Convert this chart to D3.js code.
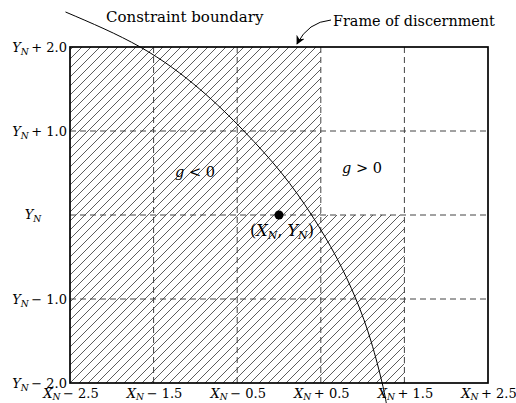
<!DOCTYPE html>
<html><head><meta charset="utf-8">
<script src="https://cdn.jsdelivr.net/npm/d3@7"></script>
<style>
html,body{margin:0;padding:0;background:#fff;}
text{font-family:"DejaVu Serif",serif;fill:#000;}
</style></head>
<body><svg id="c" width="516" height="403"></svg>
<script>
// ---- data ----
const xTicks = [-2.5, -1.5, -0.5, 0.5, 1.5, 2.5];
const xTickLabels = ["− 2.5", "− 1.5", "− 0.5", "+ 0.5", "+ 1.5", "+ 2.5"];
const yTicks = [2, 1, 0, -1, -2];
const yTickLabels = ["+ 2.0", "+ 1.0", "", "− 1.0", "− 2.0"];
const gridX = [-1.5, -0.5, 0.5, 1.5];
const gridY = [1, 0, -1];
// hatched region (x,y) vertices
const regionX = [-2.5, 1.5, 1.5, 0.5, 0.5, -2.5];
const regionY = [-2, -2, 0, 0, 2, 2];
// constraint boundary curve
const curveX = [-2.554, -1.66, -0.95, -0.42, 0.03, 0.39, 0.685, 0.92, 1.10, 1.234, 1.283];
const curveY = [2.417, 2.0, 1.5, 1.0, 0.5, 0.0, -0.5, -1.0, -1.5, -2.0, -2.238];
const nominal = [0, 0];

const svg = d3.select("#c");
const x = d3.scaleLinear().domain([-2.5, 2.5]).range([70, 488]);
const y = d3.scaleLinear().domain([-2, 2]).range([383, 47]);

// hatch pattern
const defs = svg.append("defs");
const pat = defs.append("pattern").attr("id","hatch").attr("patternUnits","userSpaceOnUse")
  .attr("width", 9).attr("height", 9).attr("x", 70).attr("y", 383);
pat.append("path").attr("d","M-1,10 L10,-1 M-2,2 L2,-2 M7,11 L11,7")
  .attr("stroke","#333").attr("stroke-width",0.8).attr("fill","none");
defs.append("marker").attr("id","arr").attr("viewBox","0 0 10 10").attr("refX",9).attr("refY",5)
  .attr("markerWidth",9).attr("markerHeight",9).attr("orient","auto").attr("markerUnits","userSpaceOnUse")
  .append("path").attr("d","M0,0 L10,5 L0,10 L3,5 Z").attr("fill","#000");

// hatched region
const poly = regionX.map((v,i)=>[x(v), y(regionY[i])]);
svg.append("path").attr("d", "M" + poly.join("L") + "Z").attr("fill","url(#hatch)");

// dashed grid
svg.selectAll(".gx").data(gridX).enter().append("line")
  .attr("x1", d=>x(d)).attr("x2", d=>x(d)).attr("y1", y(2)).attr("y2", y(-2))
  .attr("stroke","#444").attr("stroke-width",1).attr("stroke-dasharray","6,4");
svg.selectAll(".gy").data(gridY).enter().append("line")
  .attr("y1", d=>y(d)).attr("y2", d=>y(d)).attr("x1", x(-2.5)).attr("x2", x(2.5))
  .attr("stroke","#444").attr("stroke-width",1).attr("stroke-dasharray","6,4");

// frame
svg.append("rect").attr("x", x(-2.5)).attr("y", y(2)).attr("width", x(2.5)-x(-2.5)).attr("height", y(-2)-y(2))
  .attr("fill","none").attr("stroke","#000").attr("stroke-width",1.7);

// constraint curve
const line = d3.line().x(d=>x(d[0])).y(d=>y(d[1])).curve(d3.curveNatural);
svg.append("path").attr("d", line(curveX.map((v,i)=>[v, curveY[i]])))
  .attr("fill","none").attr("stroke","#000").attr("stroke-width",1);

// nominal point
svg.append("circle").attr("cx", x(nominal[0])).attr("cy", y(nominal[1])).attr("r", 4.5).attr("fill","#000");

// helper for math labels
function mathLabel(g, v, sub, rest, fs) {
  const t = g.append("text").attr("font-size", fs);
  t.append("tspan").attr("font-style","italic").text(v);
  t.append("tspan").attr("font-style","italic").attr("font-size", fs*0.7).attr("dy", fs*0.22).text(sub);
  if (rest) t.append("tspan").attr("dy", -fs*0.22).text("\u2009" + rest);
  return t;
}

// x tick labels
xTicks.forEach((v,i)=>{
  const t = mathLabel(svg, "X", "N", xTickLabels[i], 13);
  t.attr("x", x(v)+1).attr("y", 397.5).attr("text-anchor","middle");
});
// y tick labels
yTicks.forEach((v,i)=>{
  const t = mathLabel(svg, "Y", "N", yTickLabels[i], 13);
  if (yTickLabels[i]) t.attr("x", 67).attr("y", y(v)+5).attr("text-anchor","end");
  else t.attr("x", 33).attr("y", y(v)+4).attr("text-anchor","middle");
});

// annotations
svg.append("text").attr("x", 106).attr("y", 22).attr("font-size", 15).text("Constraint boundary");
svg.append("text").attr("x", 333).attr("y", 26).attr("font-size", 14.4).text("Frame of discernment");
svg.append("path").attr("d","M331,20 Q308,22 297,44").attr("fill","none").attr("stroke","#000")
  .attr("stroke-width",1).attr("marker-end","url(#arr)");

const g1 = svg.append("text").attr("x", 195).attr("y", 177).attr("font-size", 14.5).attr("text-anchor","middle");
g1.append("tspan").attr("font-style","italic").text("g");
g1.append("tspan").text(" < 0");
const g2 = svg.append("text").attr("x", 362).attr("y", 173).attr("font-size", 14.5).attr("text-anchor","middle");
g2.append("tspan").attr("font-style","italic").text("g");
g2.append("tspan").text(" > 0");

const pl = svg.append("text").attr("x", 282).attr("y", 236).attr("font-size", 16).attr("text-anchor","middle");
pl.append("tspan").text("(");
pl.append("tspan").attr("font-style","italic").text("X");
pl.append("tspan").attr("font-style","italic").attr("font-size", 11).attr("dy", 3).text("N");
pl.append("tspan").attr("dy", -3).text(", ");
pl.append("tspan").attr("font-style","italic").text("Y");
pl.append("tspan").attr("font-style","italic").attr("font-size", 11).attr("dy", 3).text("N");
pl.append("tspan").attr("dy", -3).text(")");
</script></body></html>
